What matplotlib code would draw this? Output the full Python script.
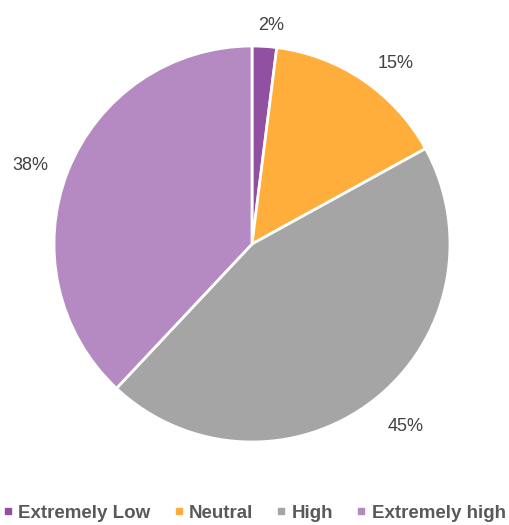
import matplotlib.pyplot as plt

categories = ["Extremely Low", "Neutral", "High", "Extremely high"]
values = [2, 15, 45, 38]
colors = ["#9150A1", "#FFAD3B", "#A5A5A5", "#B589C1"]

plt.rcParams["font.family"] = ["Liberation Sans", "DejaVu Sans"]

fig = plt.figure(figsize=(5.09, 5.25), dpi=100)
ax = fig.add_axes([54 / 509, (525 - 244 - 198) / 525, 396 / 509, 396 / 525])

wedges, texts, autotexts = ax.pie(
    values, colors=colors, startangle=90, counterclock=False,
    autopct="%d%%", pctdistance=1.2, radius=1,
    wedgeprops=dict(edgecolor="white", linewidth=2),
    textprops=dict(fontsize=13, color="#404040"),
)
# nudge labels a little, like the spreadsheet's own placement
nudges = [(0.02, -0.095), (0.05, -0.08), (0.04, 0.025), (-0.005, -0.045)]
for t, (dx, dy) in zip(autotexts, nudges):
    x, y = t.get_position()
    t.set_position((x + dx, y + dy))
    t.set_clip_on(False)
ax.set_xlim(-1, 1)
ax.set_ylim(-1, 1)
ax.set_aspect("equal")

handles = [plt.Line2D([], [], marker="s", linestyle="", markersize=5,
                      color=c) for c in colors]
leg = fig.legend(handles, categories, loc="center", bbox_to_anchor=(0.5, 12 / 525),
                 ncol=4, frameon=False, handlelength=0.5, handletextpad=0.3,
                 columnspacing=1.25, borderpad=0, borderaxespad=0,
                 prop=dict(size=13.5, weight="bold"))
for t in leg.get_texts():
    t.set_color("#595959")

fig.savefig("out.png", dpi=100)
